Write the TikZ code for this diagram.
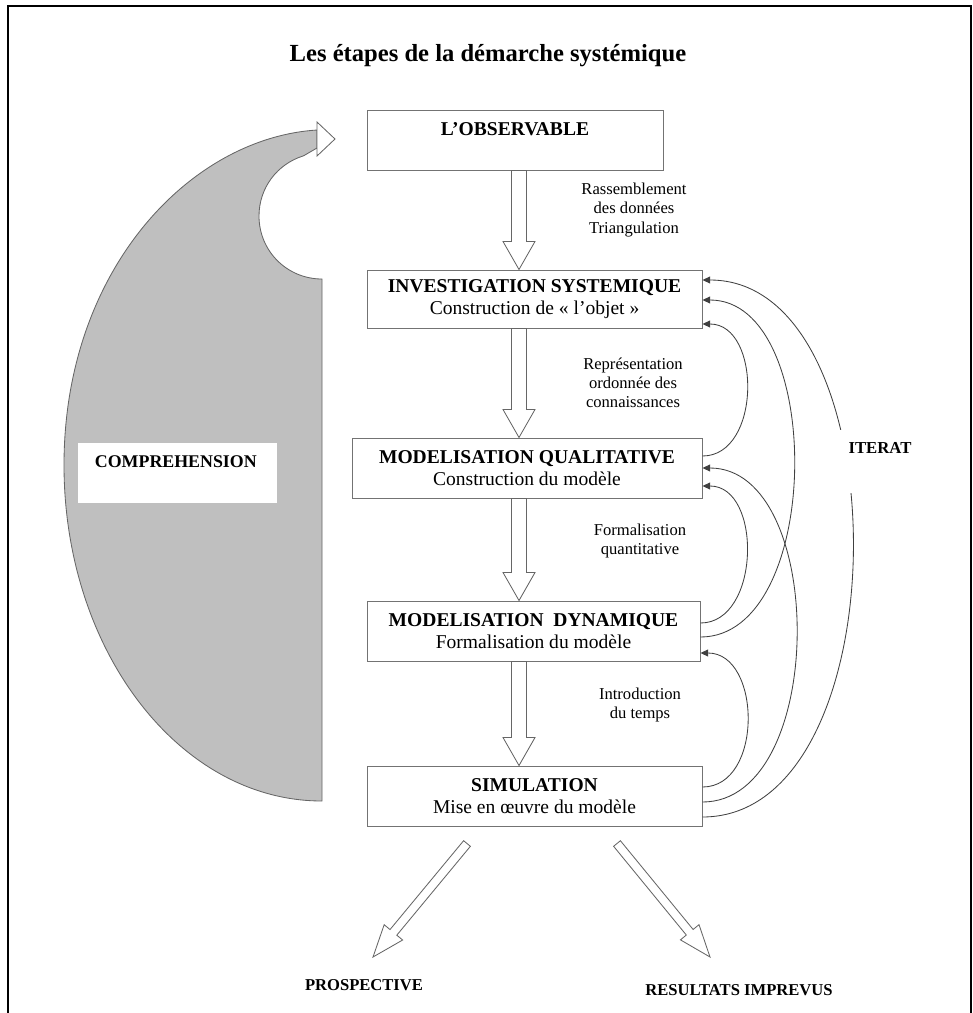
\documentclass[tikz,border=0pt]{standalone}
\usepackage{fontspec}
\setmainfont{Liberation Serif}
\usetikzlibrary{calc,arrows.meta}

\definecolor{compgray}{RGB}{191,191,191}

\newcommand{\hollowarrow}[5]{%
  \coordinate (ha) at (#1);
  \coordinate (hb) at (#2);
  \coordinate (hh) at ($(hb)!#5!(ha)$);
  \filldraw[hollow] ($(ha)!#3!90:(hb)$) -- ($(hh)!#3!90:(hb)$)
    -- ($(hh)!#4!90:(hb)$) -- (hb) -- ($(hh)!#4!-90:(hb)$)
    -- ($(hh)!#3!-90:(hb)$) -- ($(ha)!#3!-90:(hb)$) -- cycle;}

\begin{document}
\begin{tikzpicture}[x=0.25mm,y=-0.25mm,
        box/.style={draw=black!55,line width=0.7pt,fill=white,align=center,
            inner sep=0pt,minimum height=15mm,
            font=\fontsize{13.9pt}{15.6pt}\selectfont},
        lbl/.style={align=center,font=\fontsize{11.8pt}{13.6pt}\selectfont},
        caps/.style={anchor=base,font=\fontsize{11.8pt}{14pt}\selectfont\bfseries},
        iter/.style={draw=black!75,line width=0.6pt,
            -{Triangle[length=5.5pt,width=5pt]}},
        hollow/.style={draw=black!60,line width=0.6pt,fill=white}]
\useasboundingbox (0,0) rectangle (973,1013);
\draw[line width=2pt] (8,1013) -- (8,6) -- (971,6) -- (971,1013);

\node[anchor=base,font=\fontsize{17.5pt}{21pt}\selectfont\bfseries] (title) at (488,61)
    {Les étapes de la démarche systémique};

% comprehension loop
\filldraw[fill=compgray,draw=black!60,line width=0.6pt]
    (322,801) .. controls (179,801) and (64,650) .. (64,465)
    .. controls (64,270) and (190,138) .. (317,130)
    -- (317,148)
    -- (303.6,155.8) .. controls (277,164) and (259,188) .. (259,216)
    .. controls (259,251) and (287,279) .. (322,279) -- cycle;
\filldraw[hollow] (317,122) -- (335,139) -- (317,156) -- cycle;
\node[fill=white,minimum width=49.75mm,minimum height=15mm,inner sep=0pt] (compbox) at (177.5,473) {};
\node[anchor=base west,font=\fontsize{12.7pt}{15pt}\selectfont\bfseries] (comp) at (90,467) {COMPREHENSION};

% steps
\node[box,minimum width=74mm] (obs) at (515,140) {\textbf{L’OBSERVABLE}\\\mbox{}};
\node[box,minimum width=83.75mm,minimum height=14.5mm] (inv) at (534.5,299)
    {\textbf{INVESTIGATION SYSTEMIQUE}\\Construction de « l’objet »};
\node[box,minimum width=87.5mm] (modq) at (527,468)
    {\textbf{MODELISATION QUALITATIVE}\\Construction du modèle};
\node[box,minimum width=83.25mm] (modd) at (533.5,631)
    {\textbf{MODELISATION~~DYNAMIQUE}\\Formalisation du modèle};
\node[box,minimum width=83.75mm] (sim) at (534.5,796)
    {\textbf{SIMULATION}\\Mise en œuvre du modèle};

\coordinate (axis) at (519,0);
\hollowarrow{obs.south -| axis}{inv.north -| axis}{1.875mm}{4mm}{7mm}
\hollowarrow{inv.south -| axis}{modq.north -| axis}{1.875mm}{4mm}{7mm}
\hollowarrow{modq.south -| axis}{modd.north -| axis}{1.875mm}{4mm}{7mm}
\hollowarrow{modd.south -| axis}{sim.north -| axis}{1.875mm}{4mm}{7mm}

\node[lbl] (l1) at (634,210) {Rassemblement\\des données\\Triangulation};
\node[lbl] (l2) at (633,383) {Représentation\\ordonnée des\\connaissances};
\node[lbl] (l3) at (640,541) {Formalisation\\quantitative};
\node[lbl] (l4) at (640,705) {Introduction\\du temps};

% iterations
\draw[iter] ($(modq.east)+(0,-12)$) .. controls +(59,0) and +(59,0) .. ($(inv.east)+(0,25)$);
\draw[iter] ($(modd.east)+(0,-8)$) .. controls +(60,0) and +(60,0) .. ($(modq.east)+(0,18)$);
\draw[iter] ($(modd.east)+(0,6)$) .. controls +(123,0) and +(123,0) .. ($(inv.east)+(0,1)$);
\draw[iter] ($(sim.east)+(0,6)$) .. controls +(125,0) and +(125,0) .. (modq.east);
\draw[iter] ($(sim.east)+(0,-9)$) .. controls +(61,0) and +(61,0) .. ($(modd.east)+(0,22)$);
\draw[iter] ($(sim.east)+(0,21)$) .. controls +(200,0) and +(200,0) .. ($(inv.east)+(0,-19)$);
\node[anchor=base,fill=white,inner xsep=3.5mm,inner ysep=0pt,text height=5.75mm,text depth=10mm,
    font=\fontsize{11.9pt}{14pt}\selectfont\bfseries] (iterat) at (880,453) {ITERAT};

% outcomes
\node[caps] (prosp) at (364,990) {PROSPECTIVE};
\node[caps] (imprevus) at (739,995) {RESULTATS IMPREVUS};
\coordinate (ptip) at (373,957);
\coordinate (rtip) at (710,957);
\hollowarrow{$(sim.south)+(-67.5,17)$}{ptip}{1.1mm}{3mm}{8mm}
\hollowarrow{$(sim.south)+(82.5,17)$}{rtip}{1.1mm}{3mm}{8mm}

\end{tikzpicture}
\end{document}
